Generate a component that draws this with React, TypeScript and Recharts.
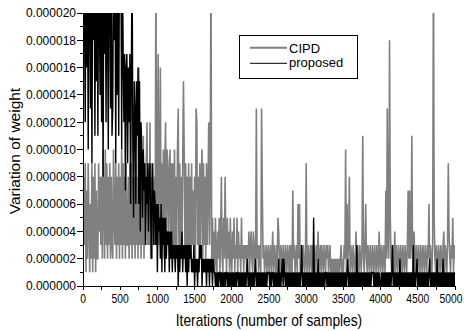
import React from 'react';
import { LineChart, Line, XAxis, YAxis } from 'recharts';

// one sample every 10 iterations, values in units of 1e-6 (one row = 200 iterations)
const sampleStep = 10;

const cipd = [
  1, 8, 3, 9, 1, 7, 2, 9, 5, 1, 6, 2, 9, 1, 8, 2, 9, 1, 7, 2,
  2, 9, 4, 8, 3, 8, 2, 10, 6, 2, 10, 3, 9, 2, 8, 3, 9, 2, 8, 3,
  2, 10, 5, 3, 9, 2, 8, 3, 9, 2, 8, 3, 10, 2, 9, 3, 8, 2, 9, 3,
  3, 8, 2, 9, 3, 9, 2, 8, 3, 8, 2, 9, 3, 8, 2, 16, 3, 8, 2, 8,
  3, 11, 2, 9, 3, 9, 12, 3, 9, 3, 12, 2, 8, 2, 9, 3, 8, 3, 24, 3,
  9, 17, 3, 8, 16, 2, 9, 3, 10, 2, 9, 12, 3, 10, 9, 3, 8, 10, 3, 9,
  2, 9, 3, 10, 2, 8, 3, 10, 13, 2, 9, 3, 8, 2, 9, 15, 10, 3, 9, 2,
  8, 2, 9, 3, 8, 2, 9, 3, 7, 2, 8, 2, 13, 12, 3, 8, 2, 9, 3, 8,
  10, 2, 9, 3, 8, 2, 9, 3, 7, 12, 3, 8, 24, 2, 5, 2, 4, 1, 5, 2,
  1, 4, 2, 5, 1, 4, 8, 2, 1, 5, 2, 8, 3, 1, 5, 2, 4, 1, 5, 2,
  1, 4, 2, 5, 1, 3, 2, 5, 1, 4, 2, 3, 1, 5, 2, 3, 1, 3, 2, 3,
  1, 3, 2, 4, 1, 3, 4, 2, 1, 4, 3, 1, 2, 13, 2, 3, 1, 3, 2, 1,
  13, 7, 2, 3, 1, 2, 3, 1, 2, 3, 1, 2, 3, 1, 2, 4, 1, 3, 2, 1,
  3, 1, 5, 4, 2, 1, 3, 2, 1, 3, 2, 1, 3, 2, 1, 3, 2, 1, 3, 1,
  3, 1, 7, 2, 3, 1, 2, 3, 1, 6, 2, 6, 1, 3, 2, 1, 3, 2, 1, 2,
  9, 1, 2, 3, 1, 2, 3, 1, 3, 2, 1, 3, 2, 1, 3, 2, 4, 1, 2, 3,
  1, 3, 2, 1, 3, 2, 1, 3, 2, 3, 1, 2, 3, 1, 2, 1, 2, 1, 2, 1,
  2, 1, 2, 1, 2, 1, 2, 3, 1, 2, 1, 3, 2, 10, 1, 6, 2, 3, 8, 1,
  3, 2, 1, 3, 2, 1, 2, 4, 1, 3, 2, 1, 3, 2, 1, 3, 11, 2, 1, 3,
  6, 2, 1, 3, 2, 1, 3, 2, 1, 3, 2, 1, 3, 2, 1, 3, 2, 1, 4, 2,
  1, 3, 2, 1, 3, 2, 1, 7, 2, 13, 3, 2, 18, 5, 2, 1, 3, 2, 1, 4,
  1, 3, 2, 1, 3, 2, 1, 3, 2, 1, 3, 2, 1, 3, 2, 1, 3, 7, 2, 7,
  2, 3, 11, 2, 1, 4, 2, 1, 3, 2, 1, 3, 2, 1, 3, 2, 1, 3, 2, 1,
  3, 2, 1, 3, 2, 6, 1, 3, 2, 1, 3, 24, 5, 2, 1, 3, 2, 1, 3, 2,
  1, 3, 2, 1, 3, 4, 1, 3, 2, 1, 3, 9, 4, 2, 1, 3, 2, 5, 1, 3,
  2,
];

const proposed = [
  14, 24, 20, 12, 24, 16, 24, 10, 24, 22, 13, 24, 9, 24, 18, 24, 11, 24, 15, 24,
  11, 24, 20, 14, 24, 12, 24, 8, 24, 17, 24, 12, 24, 19, 10, 24, 24, 13, 24, 11,
  13, 24, 18, 24, 9, 24, 14, 24, 11, 24, 20, 24, 10, 24, 17, 12, 17, 7, 16, 17,
  9, 16, 12, 17, 6, 16, 24, 10, 5, 15, 13, 6, 15, 11, 16, 6, 15, 4, 12, 10,
  5, 10, 7, 9, 3, 8, 6, 9, 4, 8, 9, 5, 2, 9, 7, 3, 7, 6, 3, 6,
  1, 6, 4, 5, 2, 6, 1, 5, 3, 5, 1, 5, 2, 4, 3, 4, 1, 4, 2, 4,
  1, 3, 2, 3, 1, 3, 2, 3, 0, 3, 1, 3, 2, 4, 1, 3, 2, 3, 1, 3,
  0, 3, 1, 3, 2, 3, 1, 2, 1, 3, 0, 2, 1, 2, 0, 2, 1, 3, 2, 3,
  0, 2, 1, 2, 1, 2, 0, 2, 1, 2, 0, 2, 1, 2, 0, 2, 1, 1, 0, 1,
  0, 1, 0, 1, 1, 0, 1, 0, 1, 0, 1, 0, 1, 1, 0, 1, 0, 1, 0, 1,
  0, 1, 0, 1, 0, 1, 0, 1, 1, 0, 1, 0, 1, 0, 1, 0, 1, 0, 1, 0,
  1, 2, 0, 1, 0, 1, 0, 1, 0, 1, 0, 1, 2, 0, 1, 0, 1, 0, 1, 0,
  1, 0, 1, 0, 1, 0, 1, 0, 1, 1, 1, 0, 1, 0, 1, 1, 0, 1, 0, 1,
  0, 1, 0, 2, 0, 1, 0, 1, 2, 0, 2, 1, 0, 1, 0, 1, 0, 1, 0, 1,
  0, 1, 0, 1, 0, 1, 0, 1, 0, 1, 0, 1, 0, 1, 3, 0, 1, 0, 1, 0,
  1, 0, 1, 0, 1, 0, 1, 0, 1, 0, 5, 0, 1, 0, 1, 0, 2, 0, 1, 0,
  1, 0, 1, 0, 1, 0, 1, 1, 0, 1, 0, 1, 0, 1, 0, 1, 0, 1, 0, 1,
  0, 1, 0, 1, 0, 1, 0, 1, 0, 1, 0, 1, 0, 1, 0, 1, 2, 0, 1, 0,
  1, 0, 1, 0, 1, 0, 1, 0, 3, 0, 1, 0, 1, 0, 1, 0, 1, 0, 1, 0,
  1, 0, 1, 0, 1, 0, 1, 0, 1, 1, 1, 0, 1, 0, 1, 0, 1, 0, 1, 0,
  0, 1, 0, 1, 0, 1, 0, 1, 0, 1, 0, 1, 0, 1, 0, 1, 3, 0, 1, 0,
  1, 0, 1, 0, 1, 0, 2, 0, 1, 0, 1, 0, 1, 0, 1, 0, 1, 0, 1, 0,
  1, 0, 1, 0, 3, 0, 1, 0, 1, 2, 0, 1, 0, 1, 0, 1, 0, 1, 0, 1,
  0, 1, 0, 1, 0, 1, 2, 0, 1, 0, 1, 0, 1, 0, 1, 0, 2, 0, 1, 0,
  1, 0, 1, 0, 2, 0, 1, 0, 1, 0, 1, 0, 1, 0, 1, 0, 1, 0, 1, 0,
  1,
];

const xTicks = [
  0, 250, 500, 750, 1000, 1250, 1500, 1750, 2000, 2250, 2500,
  2750, 3000, 3250, 3500, 3750, 4000, 4250, 4500, 4750, 5000,
];
const xLabelTicks = [0, 500, 1000, 1500, 2000, 2500, 3000, 3500, 4000, 4500, 5000];
const yTicksMicro = [0, 1, 2, 3, 4, 5, 6, 7, 8, 9, 10, 11, 12, 13, 14, 15, 16, 17, 18, 19, 20];
const yLabelTicksMicro = [0, 2, 4, 6, 8, 10, 12, 14, 16, 18, 20];

const data = cipd.map((v, i) => ({
  x: i * sampleStep,
  cipd: v * 1e-6,
  proposed: proposed[i] * 1e-6,
}));
const yTicks = yTicksMicro.map((v) => v * 1e-6);

const FONT = '"Liberation Sans", Arial, Helvetica, sans-serif';
const SQUEEZE = 0.86;

function LeftTick(props: any) {
  const { x, y, payload } = props;
  const major = yLabelTicksMicro.includes(Math.round(payload.value * 1e6));
  return (
    <g>
      <line x1={x} y1={y} x2={x - (major ? 6 : 3)} y2={y} stroke="#000" shapeRendering="crispEdges" />
      {major && (
        <text x={x - 7} y={y + 4.3} textAnchor="end" fontSize={12} fontFamily={FONT} fill="#000">
          {payload.value.toFixed(6)}
        </text>
      )}
    </g>
  );
}

function RightTick(props: any) {
  const { x, y } = props;
  return <line x1={x} y1={y} x2={x - 3} y2={y} stroke="#000" shapeRendering="crispEdges" />;
}

function BottomTick(props: any) {
  const { x, y, payload, index, visibleTicksCount } = props;
  const major = xLabelTicks.includes(payload.value);
  // keep the last label inside the picture
  const shift = index === visibleTicksCount - 1 ? -4 : 0;
  return (
    <g>
      <line x1={x} y1={y} x2={x} y2={y + 4} stroke="#000" shapeRendering="crispEdges" />
      {major && (
        <text
          transform={`translate(${x + shift},${y + 16.5}) scale(${SQUEEZE},1)`}
          textAnchor="middle"
          fontSize={12}
          fontFamily={FONT}
          fill="#000"
        >
          {payload.value}
        </text>
      )}
    </g>
  );
}

function TopTick(props: any) {
  const { x, y } = props;
  return <line x1={x} y1={y} x2={x} y2={y + 5} stroke="#000" shapeRendering="crispEdges" />;
}

function XTitle(props: any) {
  const { viewBox } = props;
  const cx = viewBox.x + viewBox.width / 2;
  return (
    <text
      transform={`translate(${cx},${viewBox.y + 40}) scale(${SQUEEZE},1)`}
      textAnchor="middle"
      fontSize={16}
      fontFamily={FONT}
      fill="#000"
    >
      Iterations (number of samples)
    </text>
  );
}

function YTitle(props: any) {
  const { viewBox } = props;
  const cy = viewBox.y + viewBox.height / 2 + 1.5;
  return (
    <text
      transform={`translate(20,${cy}) rotate(-90)`}
      textAnchor="middle"
      fontSize={15.5}
      fontFamily={FONT}
      fill="#000"
    >
      Variation of weight
    </text>
  );
}

function LegendBox() {
  return (
    <svg width={120} height={44} style={{ position: 'absolute', left: 239, top: 35 }}>
      <rect x={0.5} y={0.5} width={118} height={43} fill="#fff" stroke="#000" />
      <line x1={11} y1={12.7} x2={48} y2={12.7} stroke="#808080" strokeWidth={2} />
      <text x={50} y={17.6} fontSize={13} fontFamily={FONT} fill="#000">
        CIPD
      </text>
      <line x1={11} y1={28.3} x2={48} y2={28.3} stroke="#000" strokeWidth={1} />
      <text x={50} y={32.4} fontSize={13} fontFamily={FONT} fill="#000">
        proposed
      </text>
    </svg>
  );
}

export default function App() {
  return (
    <div style={{ position: 'absolute', left: 0, top: 0, width: 464, height: 331, background: '#fff' }}>
      <LineChart width={464} height={331} data={data} margin={{ top: 13, right: 9, left: 0, bottom: 0 }}>
        <XAxis
          dataKey="x"
          type="number"
          domain={[0, 5000]}
          allowDataOverflow
          ticks={xTicks}
          interval={0}
          height={45}
          tickSize={0}
          tickMargin={0}
          tick={<BottomTick />}
          tickLine={false}
          axisLine={{ stroke: '#000', shapeRendering: 'crispEdges' }}
          label={<XTitle />}
        />
        <XAxis
          xAxisId="top"
          orientation="top"
          dataKey="x"
          type="number"
          domain={[0, 5000]}
          allowDataOverflow
          ticks={xTicks}
          interval={0}
          height={0}
          tickSize={0}
          tickMargin={0}
          tick={<TopTick />}
          tickLine={false}
          axisLine={{ stroke: '#000', shapeRendering: 'crispEdges' }}
        />
        <YAxis
          type="number"
          domain={[0, 2e-5]}
          allowDataOverflow
          ticks={yTicks}
          interval={0}
          width={83}
          tickSize={0}
          tickMargin={0}
          tick={<LeftTick />}
          tickLine={false}
          axisLine={{ stroke: '#000', shapeRendering: 'crispEdges' }}
          label={<YTitle />}
        />
        <YAxis
          yAxisId="right"
          orientation="right"
          type="number"
          domain={[0, 2e-5]}
          allowDataOverflow
          ticks={yTicks}
          interval={0}
          width={0}
          tickSize={0}
          tickMargin={0}
          tick={<RightTick />}
          tickLine={false}
          axisLine={{ stroke: '#000', shapeRendering: 'crispEdges' }}
        />
        <Line
          type="linear"
          dataKey="cipd"
          stroke="#808080"
          strokeWidth={1.6}
          dot={false}
          isAnimationActive={false}
        />
        <Line
          type="linear"
          dataKey="proposed"
          stroke="#000"
          strokeWidth={1.4}
          dot={false}
          isAnimationActive={false}
        />
      </LineChart>
      <LegendBox />
    </div>
  );
}
